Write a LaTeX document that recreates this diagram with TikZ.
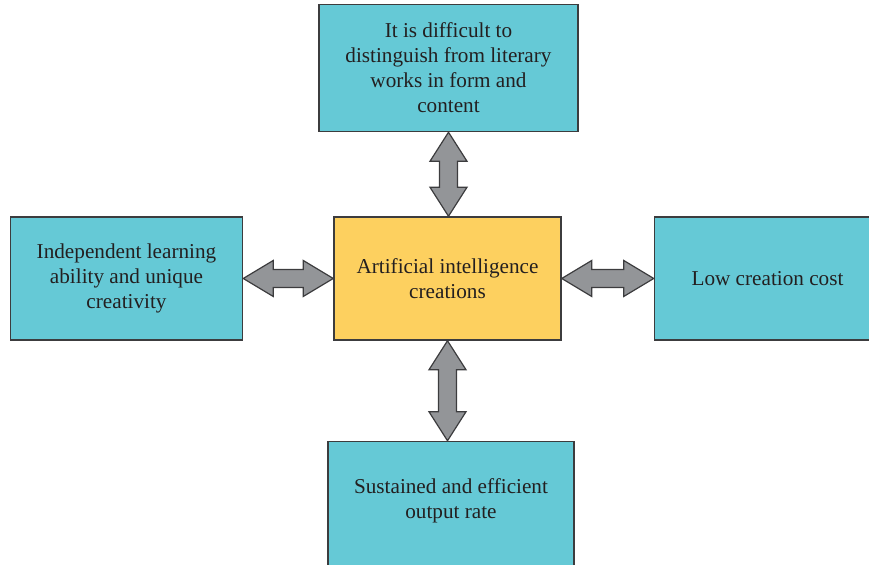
\documentclass[tikz,border=0pt]{standalone}
\usepackage{fontspec}
\setmainfont{Liberation Serif}
\usepackage{xcolor}
\usetikzlibrary{positioning, calc}
\definecolor{boxteal}{RGB}{101,201,214}
\definecolor{boxyellow}{RGB}{253,208,95}
\definecolor{arrowgray}{RGB}{147,149,152}
\definecolor{linegray}{RGB}{60,60,62}
\definecolor{textgray}{RGB}{35,31,32}
\tikzset{
    x=0.5pt, y=-0.5pt, % one unit is one pixel of the original
    every box/.style={draw=linegray, line width=0.75pt, align=center, text=textgray,
        inner sep=0pt, font=\fontsize{10.6}{12.5}\selectfont}, % common look of the boxes
    feature/.style={every box, fill=boxteal},
    core/.style={every box, fill=boxyellow},
    twoway/.style={draw=linegray, line width=0.6pt, fill=arrowgray, line join=miter}, % fat double arrows
}
% vertical double arrow from #1 (above) down to the top side of #2, kept straight
\newcommand{\updown}[2]{%
    \coordinate (s) at (#1.south);
    \coordinate (e) at (#1.south |- #2.north);
    \draw[twoway] (s) -- ++(18.5,29) -- ++(-9.5,0) -- ($(e)+(9,-29)$) -- ++(9.5,0)
        -- (e) -- ++(-18.5,-29) -- ++(9.5,0) -- ($(s)+(-9,29)$) -- ++(-9.5,0) -- cycle;}
% horizontal double arrow between #1 (left) and #2 (right)
\newcommand{\leftright}[2]{%
    \draw[twoway] (#1.east) -- ++(30,-18) -- ++(0,9) -- ($(#2.west)+(-30,-9)$) -- ++(0,-9)
        -- (#2.west) -- ++(-30,18) -- ++(0,-9) -- ($(#1.east)+(30,9)$) -- ++(0,9) -- cycle;}

\begin{document}
\begin{tikzpicture}
    \useasboundingbox (0,0) rectangle (869,565);
    \begin{scope}
    \clip (0,0) rectangle (869,565);

    % Boxes
    \node[core, minimum width=113.5pt, minimum height=61.5pt] (ai) at (447.5,278.5)
        {Artificial intelligence\\creations};
    \node[feature, minimum width=129.5pt, minimum height=63.5pt] (form) [above=42pt of ai, xshift=0.5pt]
        {It is difficult to\\distinguish from literary\\works in form and\\content};
    \node[feature, minimum width=116pt, minimum height=61.5pt] (learn) [left=45pt of ai]
        {Independent learning\\ability and unique\\creativity};
    \node[feature, minimum width=113pt, minimum height=61.5pt] (cost) [right=46pt of ai]
        {Low creation cost};
    \node[feature, minimum width=123pt, minimum height=67.5pt, text depth=10pt] (rate) [below=50pt of ai, xshift=1.75pt]
        {Sustained and efficient\\output rate};

    % Arrows
    \updown{form}{ai}
    \updown{ai}{rate}
    \leftright{learn}{ai}
    \leftright{ai}{cost}
    \end{scope}
\end{tikzpicture}
\end{document}
